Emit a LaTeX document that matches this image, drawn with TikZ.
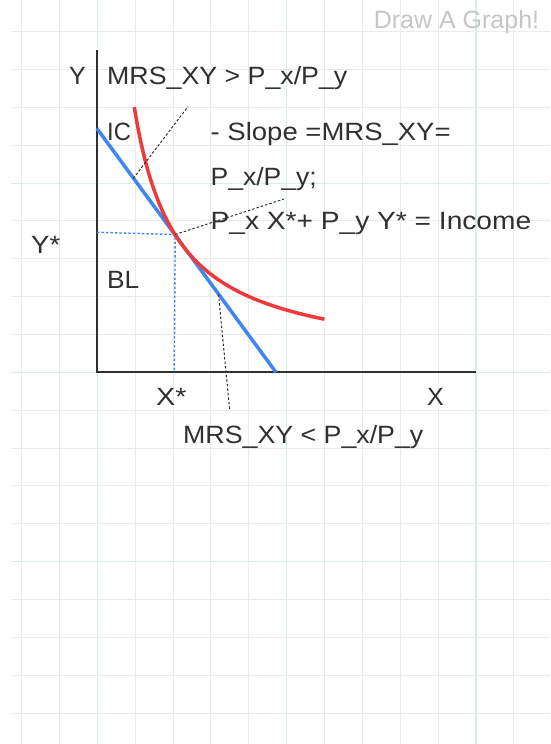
\documentclass[tikz,border=0pt]{standalone}
\usepackage{fontspec}
\usepackage{graphicx}
\setmainfont{Liberation Sans}
\definecolor{gridgray}{HTML}{EBEBEB}
\definecolor{gridgreen}{HTML}{D3EFE7}
\definecolor{ink}{HTML}{303030}
\definecolor{bluel}{HTML}{3F86EE}
\definecolor{redc}{HTML}{EE3A3A}
\definecolor{wm}{HTML}{C6C6C6}
\newcommand{\wx}[2]{\scalebox{#1}[1]{#2}}
\tikzset{
  gridline/.style={draw=gridgray, line width=1pt},
  gridmajor/.style={draw=gridgreen, line width=1.2pt},
  axisline/.style={draw=ink, line width=2pt},
  budget/.style={draw=bluel, line width=3.5pt},
  icurve/.style={draw=redc, line width=3.5pt},
  guide/.style={draw=bluel, line width=1.4pt, dash pattern=on 2.5pt off 2pt},
  leader/.style={draw=ink, line width=1pt, dash pattern=on 2.5pt off 2pt},
  lbl/.style={anchor=base west, inner sep=0pt, text=ink, font=\fontsize{25}{30}\selectfont},
  wmark/.style={anchor=base west, inner sep=0pt, text=wm, font=\fontsize{25}{30}\selectfont}
}
\begin{document}
\begin{tikzpicture}[x=1pt, y=-1pt]
\useasboundingbox (0,0) rectangle (550,744);
\fill[white] (0,0) rectangle (550,744);
% grid
\foreach \i in {0,...,13}{
  \pgfmathsetmacro{\gx}{21.7+37.85*\i}
  \ifnum\i=2 \draw[gridmajor] (\gx,0) -- (\gx,744);
  \else\ifnum\i=7 \draw[gridmajor] (\gx,0) -- (\gx,744);
  \else\ifnum\i=12 \draw[gridmajor] (\gx,0) -- (\gx,744);
  \else \draw[gridline] (\gx,0) -- (\gx,744);
  \fi\fi\fi
}
\foreach \j in {0,...,18}{
  \pgfmathsetmacro{\gy}{31.7+37.85*\j}
  \ifnum\j=4 \draw[gridmajor] (10.5,\gy) -- (550,\gy);
  \else\ifnum\j=9 \draw[gridmajor] (10.5,\gy) -- (550,\gy);
  \else\ifnum\j=14 \draw[gridmajor] (10.5,\gy) -- (550,\gy);
  \else \draw[gridline] (10.5,\gy) -- (550,\gy);
  \fi\fi\fi
}
% watermark
\node[wmark] (wmk) at (373.6,28.3) {Draw A Graph!};
% axes
\coordinate (O) at (96.8,372.3);
\coordinate (ytop) at (96.8,50);
\coordinate (xend) at (475.6,372.3);
\draw[axisline] (ytop) -- (O) -- (xend);
% key points
\coordinate (T) at (175.2,234.5);
\coordinate (ystar) at (96.8,232.3);
\coordinate (xstar) at (174.3,372.3);
\coordinate (bl0) at (96.8,128.3);
\coordinate (bl1) at (276,372.3);
% guides
\draw[guide] (ystar) -- (T) -- (xstar);
% budget line
\draw[budget] (bl0) -- (bl1);
% indifference curve
\draw[icurve] plot[domain=37.5:227.6, samples=70, smooth] ({96.8+\x},{366.1-10900/(\x+4.6)});
% leaders
\coordinate (la) at (133.3,178.5);
\coordinate (lb) at (188,106.5);
\coordinate (lc) at (284,199);
\coordinate (ld) at (218.5,294.3);
\coordinate (le) at (229.7,410);
\draw[leader] (la) -- (lb);
\draw[leader] (T) -- (lc);
\draw[leader] (ld) -- (le);
% labels
\node[lbl] (ylab) at (69,84.3) {Y};
\node[lbl] (mrsgt) at (107,84.3) {\wx{1.07}{MRS\_XY > P\_x/P\_y}};
\node[lbl] (ic) at (107,140) {\wx{0.95}{IC}};
\node[lbl] (slope) at (210.5,140) {\wx{1.10}{- Slope =MRS\_XY=}};
\node[lbl] (ratio) at (210.5,185) {\wx{1.06}{P\_x/P\_y;}};
\node[lbl] (income) at (210.5,229.3) {\wx{1.125}{P\_x X*+ P\_y Y* = Income}};
\node[lbl] (ys) at (31,253.3) {\wx{1.1}{Y*}};
\node[lbl] (bl) at (107,288.3) {\wx{1.05}{BL}};
\node[lbl] (xs) at (156,405) {\wx{1.15}{X*}};
\node[lbl] (xlab) at (427,405) {X};
\node[lbl] (mrslt) at (183,443.3) {\wx{1.07}{MRS\_XY < P\_x/P\_y}};
\end{tikzpicture}
\end{document}
